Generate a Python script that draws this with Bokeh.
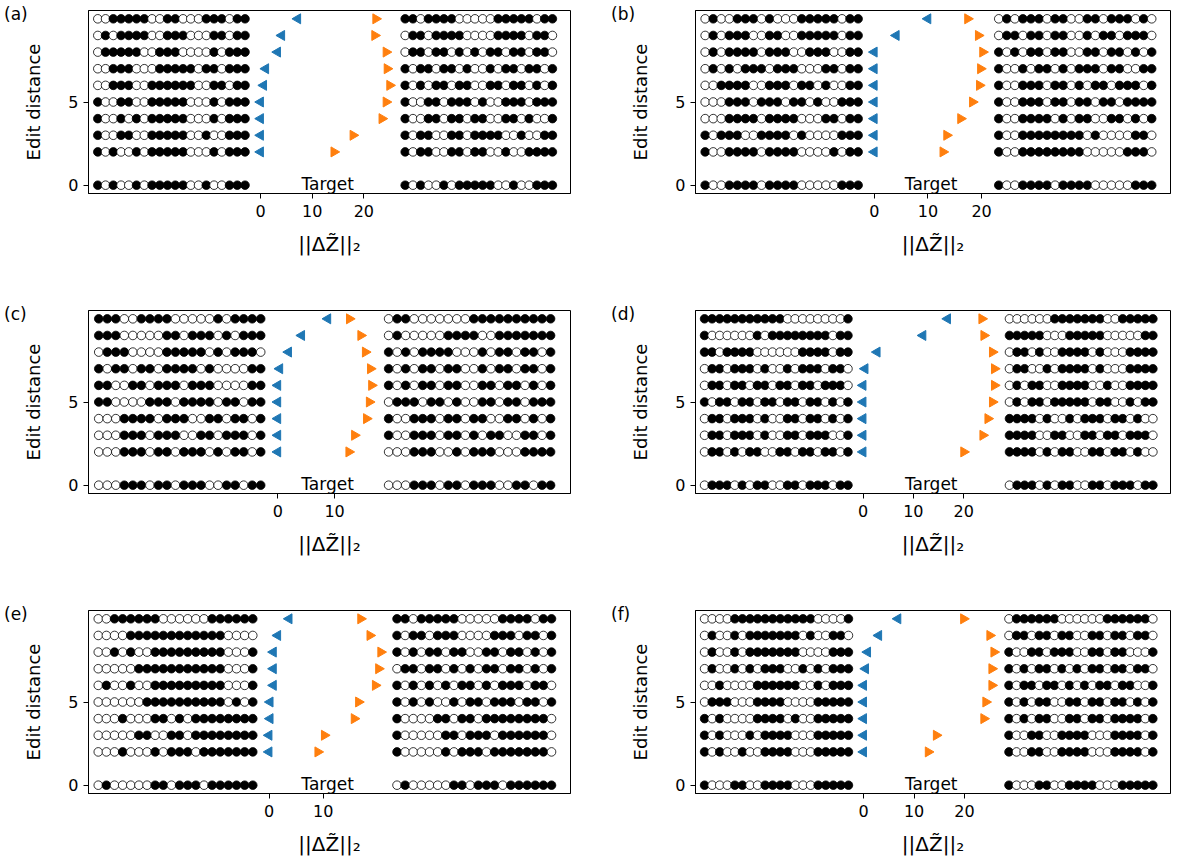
import math
from bokeh.plotting import figure
from bokeh.layouts import column, row
from bokeh.models import Range1d, FixedTicker, ColumnDataSource, Div
from bokeh.embed import file_html
from bokeh.resources import INLINE
from bokeh.core.properties import value

# ---------------- data ----------------
ROWS = [10, 9, 8, 7, 6, 5, 4, 3, 2, 0]      # rows of bit strings (last = target)
EDIT = [10, 9, 8, 7, 6, 5, 4, 3, 2]         # edit distances with markers
PANELS = ["(a)", "(b)", "(c)", "(d)", "(e)", "(f)"]

A_LEFT = ["00111110011000111011", "01011110011100011011", "01111100111000010111",
          "00111000111110110111", "00111001111110011011", "10011001111100010111",
          "10010101111100010111", "10011001111100100111", "10100101111100010111",
          "10100101111100100111"]
A_RIGHT = ["11011110000011111011", "01101111000011110110", "01101101010110110110",
           "10110110100101101101", "10101101100110110101", "10011011101001110111",
           "10011011011001101001", "10110011011110010011", "10110011011001001111",
           "10100101111100100111"]
A_BLUE = [7.2, 4.1, 3.3, 1.0, 0.6, 0.0, 0.0, 0.0, 0.0]
A_ORANGE = [22.3, 22.1, 24.3, 24.5, 25.0, 24.3, 23.5, 17.9, 14.2]
A_TICKS = [0, 10, 20]

B_LEFT = ["01001110100011111011", "01011100110011111011", "01011110111001110011",
          "01010111011100011011", "00111100111011010011", "00011101110110100111",
          "00011110111100011011", "10111001111010000111", "10011110111100001011",
          "10011110111100000111"]
B_RIGHT = ["01011101100110111010", "01101101100101101110", "10101101100110110101",
           "10010110101110110011", "10011101101011011101", "10011101101101101111",
           "10011110101100110101", "10011111111010000110", "10011111111000001110",
           "10011110111100000111"]
B_BLUE = [10.0, 4.1, 0.0, 0.0, 0.0, 0.0, 0.0, 0.0, 0.0]
B_ORANGE = [17.4, 19.4, 20.2, 19.8, 19.6, 18.3, 16.1, 13.5, 12.8]
B_TICKS = [0, 10, 20]

C_LEFT = ["11100111100000101111", "11100000110111010111", "01110000111110101110",
          "10110110111101000011", "11001101110111000011", "11000011101111011011",
          "00011110111001101101", "00011101110011011101", "00011101101110101101",
          "00011101101110011011"]
C_RIGHT = ["01100000001111111111", "01000001111001111111", "10101111000101101101",
           "10101101100101101101", "10101101100110110101", "01110110100110110111",
           "10011101101100110101", "10011101101011001101", "00011100101110001111",
           "00011101101110011011"]
C_BLUE = [8.8, 4.2, 1.9, 0.35, 0.0, 0.0, 0.0, 0.0, 0.0]
C_ORANGE = [12.6, 14.6, 15.4, 16.3, 16.5, 16.1, 15.6, 13.5, 12.5]
C_TICKS = [0, 10]

D_LEFT = ["11111111111000000001", "10000001011111111011", "11011110000001111011",
          "01101110100101110110", "01101101101101101110", "10110110110110110101",
          "01101110100110110101", "01101110100110111001", "01101011001101101101",
          "01110101100110111011"]
D_RIGHT = ["00000011111110011111", "11111000111110000011", "01101001111010001111",
           "01100101111010001111", "01011001111001001111", "01011011111011001011",
           "11110100101110110100", "11110011001101101110", "11110101100110110100",
           "01110101100110111011"]
D_BLUE = [16.8, 11.9, 2.8, 0.4, 0.0, 0.0, 0.0, 0.0, 0.0]
D_ORANGE = [23.6, 24.0, 25.7, 26.1, 26.1, 25.7, 24.8, 23.8, 20.0]
D_TICKS = [0, 10, 20]

E_LEFT = ["00111111000000111111", "00001111111111110000", "00101001111111110001",
          "00000111111111110001", "01001001111111110001", "00000011111111110101",
          "00010001101011111111", "00000110011011111111", "00010001011101111111",
          "01000001101110111111"]
E_RIGHT = ["11011111000001111011", "10110111000011101101", "10101101100110110101",
           "01101101010110110101", "10101010110101110110", "10101001011011101101",
           "10000110110111111110", "10000011011101111110", "10000010111011111110",
           "01000001101110111111"]
E_BLUE = [3.7, 1.6, 0.8, 0.8, 0.8, 0.2, 0.2, 0.0, 0.0]
E_ORANGE = [16.9, 18.6, 20.6, 20.2, 19.6, 16.5, 15.7, 10.2, 9.0]
E_TICKS = [0, 10]

F_LEFT = ["00001111111111100001", "01001011111110100110", "01001011111110000111",
          "01001010111001010111", "00100001111110010111", "01110001111000011111",
          "10100001111010011111", "10100010111100011111", "10100100111100011111",
          "10001100111100011111"]
F_RIGHT = ["01111110000001111110", "01101101100110110110", "10011011100110110001",
           "10101101010110110110", "10110110101011011001", "10101100110110110101",
           "10101100110110111101", "10011001111000111101", "10011001111000111101",
           "10001100111100011111"]
F_BLUE = [6.8, 3.0, 0.8, 0.4, 0.0, 0.0, 0.0, 0.0, 0.0]
F_ORANGE = [19.8, 25.0, 25.8, 25.4, 25.4, 24.2, 23.8, 14.4, 12.8]
F_TICKS = [0, 10, 20]

DATA = [
    (A_LEFT, A_RIGHT, A_BLUE, A_ORANGE, A_TICKS),
    (B_LEFT, B_RIGHT, B_BLUE, B_ORANGE, B_TICKS),
    (C_LEFT, C_RIGHT, C_BLUE, C_ORANGE, C_TICKS),
    (D_LEFT, D_RIGHT, D_BLUE, D_ORANGE, D_TICKS),
    (E_LEFT, E_RIGHT, E_BLUE, E_ORANGE, E_TICKS),
    (F_LEFT, F_RIGHT, F_BLUE, F_ORANGE, F_TICKS),
]

# ---------------- layout constants ----------------
STEP = 1.5      # spacing between bits (data units)
GAP = 3.0       # gap between markers and bit strings
FONT = "DejaVu Sans"
BLUE = "#1f77b4"
ORANGE = "#ff7f0e"
FRAME_H = 183
DIV_W = 20


def make_panel(idx, left, right, blue, orange, ticks, col, last_row):
    nbits = len(left[0])
    lo = min(blue) - GAP
    hi = max(orange) + GAP
    xs, ys, fills = [], [], []
    for r, yv in enumerate(ROWS):
        for i in range(nbits):
            xs.append(lo - STEP * (nbits - 1 - i)); ys.append(yv)
            fills.append("black" if left[r][i] == "1" else "white")
            xs.append(hi + STEP * i); ys.append(yv)
            fills.append("black" if right[r][i] == "1" else "white")
    x0 = lo - STEP * (nbits - 1) - 1.8
    x1 = hi + STEP * (nbits - 1) + 3.5

    bl = 88 - DIV_W
    if col == 0:
        width, br = 607 - DIV_W, 37
    else:
        width, br = 569 - DIV_W, 6
    bt = 10
    bb = 66 if last_row else 107
    height = bt + FRAME_H + bb

    p = figure(width=width, height=height, output_backend="svg", toolbar_location=None,
               x_range=Range1d(x0, x1), y_range=Range1d(-0.5, 10.5),
               min_border_left=bl, min_border_right=br, min_border_top=bt,
               min_border_bottom=bb)
    p.xgrid.visible = False
    p.ygrid.visible = False
    p.outline_line_color = "black"
    p.outline_line_width = 1
    p.background_fill_color = "white"
    p.border_fill_color = None

    src = ColumnDataSource(dict(x=xs, y=ys, f=fills))
    p.scatter("x", "y", source=src, marker="circle", size=8.6, fill_color="f",
              line_color="black", line_width=0.8)
    p.scatter(blue, EDIT, marker="triangle", angle=math.pi / 2, size=10,
              fill_color=BLUE, line_color=BLUE)
    p.scatter(orange, EDIT, marker="triangle", angle=-math.pi / 2, size=10,
              fill_color=ORANGE, line_color=ORANGE)
    p.text(x=[(lo + hi) / 2 + 0.5], y=[0.05], text=["Target"], text_align="center",
           text_baseline="middle", text_font=value(FONT), text_font_size="17px",
           text_color="black")

    p.xaxis.ticker = FixedTicker(ticks=ticks)
    p.yaxis.ticker = FixedTicker(ticks=[0, 5])
    for ax in (p.xaxis, p.yaxis):
        ax.major_label_text_font = FONT
        ax.major_label_text_font_size = "16px"
        ax.major_label_text_color = "black"
        ax.axis_label_text_font = FONT
        ax.axis_label_text_font_size = "18px"
        ax.axis_label_text_font_style = "normal"
        ax.axis_label_text_color = "black"
        ax.minor_tick_line_color = None
        ax.major_tick_in = 0
        ax.major_tick_out = 5
        ax.major_tick_line_color = "black"
        ax.axis_line_color = "black"
    p.xaxis.axis_label = "||ΔZ̃||₂"
    p.xaxis.axis_label_text_font_size = "20px"
    p.yaxis.axis_label = "Edit distance"
    p.xaxis.major_label_standoff = 6
    p.xaxis.axis_label_standoff = 12
    p.yaxis.major_label_standoff = 5
    p.yaxis.axis_label_standoff = 21

    div = Div(text=PANELS[idx], width=DIV_W, height=30, margin=(0, 0, 0, 0),
              styles={"font-family": FONT, "font-size": "17px", "padding-left": "4px",
                      "padding-top": "6px", "line-height": "1", "color": "black",
                      "white-space": "nowrap", "overflow": "visible"})
    return div, p


items = []
for k, (l, r, b, o, t) in enumerate(DATA):
    items.append(make_panel(k, l, r, b, o, t, k % 2, k >= 4))

rows = []
for j in range(3):
    d1, p1 = items[2 * j]
    d2, p2 = items[2 * j + 1]
    rows.append(row(d1, p1, d2, p2))
layout = column(*rows)
open("out.html", "w").write(file_html(layout, INLINE))
